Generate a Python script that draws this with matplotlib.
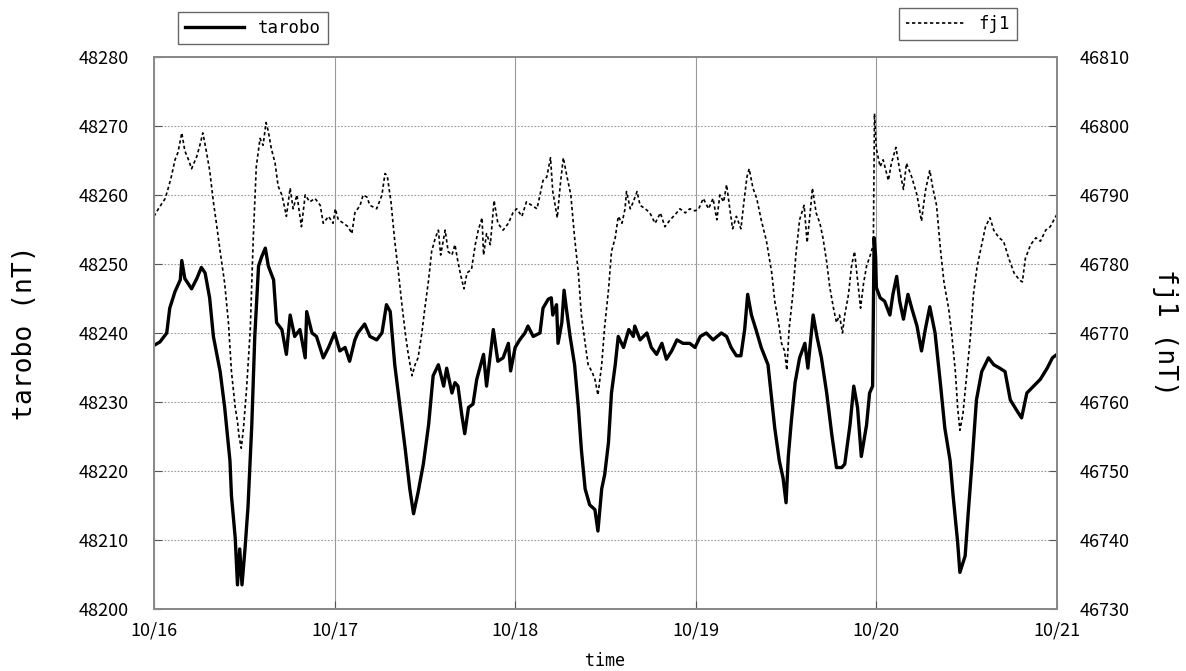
import matplotlib
matplotlib.use("Agg")
import matplotlib.pyplot as plt

# ---- data (hours since 10/16 00:00) ----
t_tarobo = [
    0, 0.8, 1.7, 2.1, 2.8, 3.5, 3.7, 4.1, 5.0, 5.7, 6.3, 6.8, 7.4, 7.9, 8.8, 9.4,
    10.1, 10.3, 10.8, 11.1, 11.4, 11.7, 12.1, 12.5, 13.0, 13.4, 13.9, 14.3, 14.8,
    15.2, 15.9, 16.3, 17.0, 17.6, 18.1, 18.7, 19.4, 20.1, 20.3, 21.0, 21.6, 22.5,
    23.2, 24.0,
    24.7, 25.4, 26.0, 26.7, 27.1, 28.0, 28.7, 29.6, 30.3, 30.9, 31.4, 32.0, 32.7,
    33.4, 34.0, 34.5, 35.1, 35.8, 36.5, 37.1, 37.8, 38.5, 38.9, 39.6, 40.0, 40.4,
    40.9, 41.3, 41.8, 42.4, 42.9, 43.8, 44.2, 45.1, 45.7, 46.4, 47.1, 47.4, 48.0,
    48.6, 49.3, 49.7, 50.4, 51.3, 51.7, 52.4, 52.8, 53.0, 53.5, 53.7, 54.2, 54.5,
    54.8, 55.3, 55.9, 56.4, 56.8, 57.3, 57.9, 58.6, 59.0, 59.5, 59.9, 60.4, 60.8,
    61.3, 61.7, 62.4, 63.1, 63.7, 63.9, 64.6, 65.5, 66.1, 66.8, 67.5, 68.1, 68.8,
    69.5, 70.3, 71.2, 71.9,
    72.6, 73.4, 74.3, 75.4, 76.1, 76.7, 77.4, 78.0, 78.5, 78.9, 79.4, 80.0, 80.7,
    81.6, 82.0, 82.5, 83.1, 83.6, 84.0, 84.3, 84.7, 85.2, 85.8, 86.5, 86.9, 87.6,
    88.1, 88.7, 89.4, 90.1, 90.7, 91.4, 91.8, 92.5, 93.0, 93.5, 94.0, 94.7, 95.1,
    95.5, 95.7,
    95.9, 96.0, 96.5, 97.1, 97.8, 98.2, 98.7, 99.1, 99.6, 100.2, 100.7, 101.4,
    102.0, 102.5, 103.1, 103.8, 104.5, 105.1, 105.8, 106.2, 106.8, 107.1, 107.8,
    108.2, 108.7, 109.3, 110.0, 110.9, 111.6, 112.4, 113.1, 113.8, 114.7, 115.3,
    116.0, 116.9, 117.8, 118.7, 119.4, 120.0,
]
v_tarobo = [
    48238.2, 48238.7, 48240.0, 48243.6, 48246.0, 48247.7, 48250.5, 48247.9,
    48246.4, 48247.9, 48249.5, 48248.7, 48245.1, 48239.5, 48234.4, 48229.2,
    48221.5, 48216.4, 48210.3, 48203.5, 48208.7, 48203.5, 48208.7, 48214.8,
    48226.6, 48239.5, 48249.7, 48251.0, 48252.3, 48249.7, 48247.7, 48241.5,
    48240.5, 48236.9, 48242.6, 48239.5, 48240.5, 48236.4, 48243.1, 48240.0,
    48239.5, 48236.4, 48237.9, 48240.0,
    48237.4, 48237.9, 48235.9, 48239.0, 48240.0, 48241.3, 48239.5, 48239.0,
    48240.0, 48244.1, 48243.1, 48235.4, 48229.2, 48223.1, 48217.4, 48213.8,
    48216.9, 48221.0, 48226.7, 48233.8, 48235.4, 48232.3, 48234.9, 48231.3,
    48232.8, 48232.3, 48228.2, 48225.4, 48229.2, 48229.7, 48233.3, 48236.9,
    48232.3, 48240.5, 48235.9, 48236.4, 48238.5, 48234.5, 48237.9,
    48239.0, 48240.0, 48241.0, 48239.5, 48240.0, 48243.6, 48244.9, 48245.1,
    48242.6, 48244.1, 48238.5, 48241.5, 48246.2, 48243.6, 48239.5, 48235.4,
    48229.2, 48223.1, 48217.4, 48215.1, 48214.4, 48211.3, 48217.4, 48219.5,
    48224.1, 48231.3, 48235.4, 48239.5, 48237.9, 48240.5, 48239.5, 48241.0,
    48239.0, 48240.0, 48237.9, 48236.9, 48238.5, 48236.2, 48237.4, 48239.0,
    48238.5, 48238.5, 48237.9,
    48239.5, 48240.0, 48239.0, 48240.0, 48239.5, 48237.9, 48236.7, 48236.7,
    48240.5, 48245.6, 48242.6, 48240.5, 48237.9, 48235.4, 48231.3, 48226.2,
    48221.5, 48219.0, 48215.4, 48222.1, 48227.2, 48232.8, 48236.4, 48238.5,
    48234.9, 48242.6, 48239.5, 48236.4, 48231.3, 48225.1, 48220.5, 48220.5,
    48221.0, 48226.7, 48232.3, 48229.2, 48222.1, 48226.7, 48231.3, 48232.3,
    48253.8,
    48251.0, 48246.6, 48245.1, 48244.6, 48242.6, 48245.6, 48248.2, 48244.6,
    48242.0, 48245.6, 48243.6, 48241.0, 48237.4, 48240.5, 48243.8, 48240.0,
    48232.8, 48226.2, 48221.5, 48216.4, 48209.7, 48205.3, 48207.7, 48213.8,
    48221.0, 48230.3, 48234.4, 48236.4, 48235.4, 48234.9, 48234.4, 48230.3,
    48228.7, 48227.7, 48231.3, 48232.3, 48233.3, 48234.9, 48236.4, 48236.9,
]

t_fj1 = [
    0, 0.6, 1.5, 1.9, 2.3, 2.8, 3.2, 3.7, 4.1, 4.6, 5.0, 5.7, 6.1, 6.5, 6.9, 7.4,
    7.9, 8.3, 8.8, 9.4, 9.9, 10.3, 10.8, 11.1, 11.3, 11.6, 11.9, 12.3, 12.8, 13.2,
    13.6, 14.1, 14.5, 14.9, 15.2, 15.6, 16.1, 16.5, 17.0, 17.4, 17.6, 18.1, 18.5,
    19.0, 19.6, 20.1, 20.7, 21.4, 22.1, 22.5, 23.2, 23.8, 24.1,
    24.5, 25.2, 25.8, 26.3, 26.7, 27.4, 27.8, 28.3, 28.7, 29.6, 30.3, 30.7, 31.0,
    31.5, 32.0, 32.5, 32.9, 33.4, 33.8, 34.3, 34.7, 35.1, 35.6, 36.0, 36.5, 36.9,
    37.4, 37.8, 38.1, 38.7, 39.1, 39.6, 40.0, 40.4, 40.8, 41.2, 41.6, 42.2, 42.7,
    43.1, 43.6, 43.8, 44.2, 44.7, 45.2, 45.7, 46.4, 47.1, 47.7,
    48.2, 48.9, 49.5, 50.2, 50.9, 51.3, 51.7, 52.2, 52.7, 53.0, 53.6, 54.0, 54.4,
    54.9, 55.4, 55.9, 56.4, 56.8, 57.3, 57.7, 58.2, 58.6, 59.0, 59.5, 59.9, 60.4,
    60.8, 61.3, 61.7, 62.2, 62.6, 62.8, 63.3, 63.7, 64.2, 64.6, 65.3, 65.9, 66.6,
    67.3, 67.9, 68.6, 69.3, 69.9, 70.6, 71.2, 71.9,
    72.4, 73.0, 73.7, 74.3, 74.8, 75.2, 75.7, 76.1, 76.6, 76.9, 77.4, 78.0, 78.4,
    78.8, 79.1, 79.6, 80.1, 80.7, 81.4, 82.1, 82.5, 83.0, 83.4, 83.8, 84.1, 84.4,
    84.9, 85.3, 85.8, 86.4, 86.8, 87.2, 87.5, 88.0, 88.5, 88.9, 89.4, 89.8, 90.3,
    90.7, 91.1, 91.5, 91.8, 92.3, 92.7, 93.1, 93.5, 93.9, 94.3, 94.7, 95.2, 95.6,
    95.75,
    96.0, 96.5, 96.9, 97.6, 98.0, 98.6, 99.1, 99.6, 100.0, 100.7, 101.4, 102.0,
    102.5, 103.1, 103.5, 104.0, 104.5, 105.0, 105.6, 106.0, 106.5, 106.8, 107.1,
    107.5, 108.0, 108.5, 108.9, 109.4, 109.8, 110.5, 111.1, 111.6, 112.3, 112.9,
    113.6, 114.3, 115.0, 115.4, 115.8, 116.5, 117.2, 117.8, 118.5, 119.1, 120.0,
]
v_fj1 = [
    46786.9, 46788.0, 46789.5, 46791.0, 46792.6, 46795.1, 46796.2, 46799.0,
    46796.4, 46795.1, 46793.8, 46795.6, 46797.2, 46799.0, 46796.7, 46793.6,
    46789.0, 46785.9, 46781.8, 46777.2, 46771.5, 46764.4, 46759.2, 46757.2,
    46755.1, 46753.3, 46756.2, 46761.8, 46770.5, 46783.8, 46794.1, 46798.2,
    46797.2, 46800.5, 46799.2, 46796.7, 46794.6, 46791.3, 46790.0, 46788.0,
    46786.9, 46791.0, 46788.0, 46790.0, 46785.4, 46790.0, 46789.0, 46789.5,
    46788.5, 46785.9, 46786.9, 46785.9, 46788.0,
    46786.4, 46785.9, 46785.4, 46784.4, 46787.4, 46788.5, 46790.0, 46789.7,
    46788.5, 46788.0, 46790.0, 46793.1, 46792.8, 46789.0, 46783.3, 46778.7,
    46774.6, 46770.0, 46766.9, 46763.8, 46765.4, 46766.4, 46770.0, 46773.6,
    46777.7, 46781.8, 46783.8, 46784.9, 46781.3, 46784.9, 46781.8, 46781.3,
    46782.8, 46780.3, 46778.2, 46776.4, 46778.7, 46779.2, 46782.8, 46784.9,
    46786.7, 46781.3, 46784.4, 46782.8, 46789.2, 46785.9, 46784.9, 46785.9,
    46787.4,
    46788.0, 46786.9, 46789.0, 46788.5, 46788.0, 46790.0, 46792.1, 46792.6,
    46795.4, 46790.5, 46786.7, 46791.5, 46795.4, 46792.6, 46790.0, 46783.8,
    46778.7, 46772.6, 46768.5, 46765.4, 46764.4, 46763.3, 46761.0, 46765.4,
    46771.0, 46776.2, 46781.8, 46783.8, 46786.9, 46785.9, 46788.0, 46790.5,
    46788.0, 46789.0, 46790.5, 46788.5, 46788.0, 46787.4, 46785.9, 46787.4,
    46785.4, 46786.4, 46787.2, 46788.0, 46787.4, 46788.0, 46787.7,
    46788.0, 46789.5, 46788.0, 46789.5, 46786.4, 46790.0, 46789.0, 46791.5,
    46787.4, 46785.1, 46786.9, 46785.1, 46789.0, 46792.6, 46793.8, 46791.0,
    46789.5, 46786.4, 46783.3, 46778.7, 46774.6, 46771.5, 46768.5, 46767.4,
    46764.6, 46770.5, 46775.6, 46781.3, 46786.4, 46788.5, 46783.1, 46787.4,
    46791.0, 46787.4, 46785.9, 46783.8, 46780.3, 46776.7, 46773.6, 46771.5,
    46772.6, 46770.0, 46772.6, 46775.6, 46779.7, 46781.8, 46777.7, 46773.6,
    46777.2, 46779.7, 46781.3, 46782.8, 46801.8,
    46796.7, 46794.1, 46795.1, 46792.1, 46794.6, 46796.9, 46793.6, 46790.8,
    46794.6, 46792.6, 46790.0, 46786.2, 46790.5, 46793.6, 46791.0, 46788.5,
    46782.3, 46777.2, 46773.6, 46770.0, 46764.4, 46759.2, 46755.9, 46758.2,
    46763.8, 46769.5, 46775.6, 46779.7, 46781.8, 46785.4, 46786.7, 46784.9,
    46783.8, 46783.3, 46780.8, 46778.7, 46777.7, 46777.4, 46780.8, 46782.8,
    46783.8, 46783.3, 46784.9, 46785.4, 46787.2,
]

day_ticks = [0, 24, 48, 72, 96, 120]
day_labels = ["10/16", "10/17", "10/18", "10/19", "10/20", "10/21"]
left_ticks = [48200, 48210, 48220, 48230, 48240, 48250, 48260, 48270, 48280]
right_ticks = [46730, 46740, 46750, 46760, 46770, 46780, 46790, 46800, 46810]

TICK_FONT = "Noto Sans CJK JP"
MONO = "DejaVu Sans Mono"
SPINE = "#8a8a8a"

fig = plt.figure(figsize=(11.86, 6.71), dpi=100)
ax = fig.add_axes([0.1298, 0.0924, 0.7614, 0.8227])
ax2 = ax.twinx()

l1, = ax.plot(t_tarobo, v_tarobo, color="black", linewidth=2.4, label="tarobo")
l2, = ax2.plot(t_fj1, v_fj1, color="black", linewidth=1.2,
               linestyle=(0, (2.0, 1.6)), label="fj1")

ax.set_xlim(0, 120)
ax.set_ylim(48200, 48280)
ax2.set_ylim(46730, 46810)

ax.set_xticks(day_ticks)
ax.set_xticklabels(day_labels, fontfamily=TICK_FONT, fontsize=13)
ax.set_yticks(left_ticks)
ax.set_yticklabels([str(v) for v in left_ticks], fontfamily=TICK_FONT, fontsize=13)
ax2.set_yticks(right_ticks)
ax2.set_yticklabels([str(v) for v in right_ticks], fontfamily=TICK_FONT, fontsize=13)

# grid: solid vertical, dotted horizontal
ax.xaxis.grid(True, color="#9a9a9a", linewidth=0.8, linestyle="-")
ax.yaxis.grid(True, color="#9a9a9a", linewidth=0.8, linestyle=(0, (1.5, 1.5)))
ax.set_axisbelow(True)

ax.tick_params(axis="y", direction="in", length=6, pad=18, color="#555")
ax.tick_params(axis="x", direction="in", length=6, pad=9, color="#555")
ax2.tick_params(axis="y", direction="in", length=6, pad=16, color="#555")

for a in (ax, ax2):
    for s in a.spines.values():
        s.set_color(SPINE)
        s.set_linewidth(1.4)

ax.set_ylabel("tarobo (nT)", fontfamily=MONO, fontsize=19)
ax.yaxis.set_label_coords(-0.128, 0.5)
ax2.set_ylabel("fj1 (nT)", fontfamily=MONO, fontsize=19, rotation=-90)
ax2.yaxis.set_label_coords(1.12, 0.5)
ax2.yaxis.label.set_verticalalignment("center")
ax.set_xlabel("time", fontfamily=MONO, fontsize=12)
ax.xaxis.set_label_coords(0.5, -0.078)

leg_kw = dict(frameon=True, fancybox=False, shadow=False, framealpha=1,
              edgecolor="#666666", borderaxespad=0, handlelength=3.4,
              prop={"family": MONO, "size": 12.5})
leg1 = fig.legend(handles=[l1], loc="upper left",
                  bbox_to_anchor=(0.1501, 0.982), **leg_kw)
leg2 = fig.legend(handles=[l2], loc="upper right",
                  bbox_to_anchor=(0.8575, 0.988), **leg_kw)
for lg in (leg1, leg2):
    lg.get_frame().set_linewidth(1.0)

fig.savefig("out.png", dpi=100)
